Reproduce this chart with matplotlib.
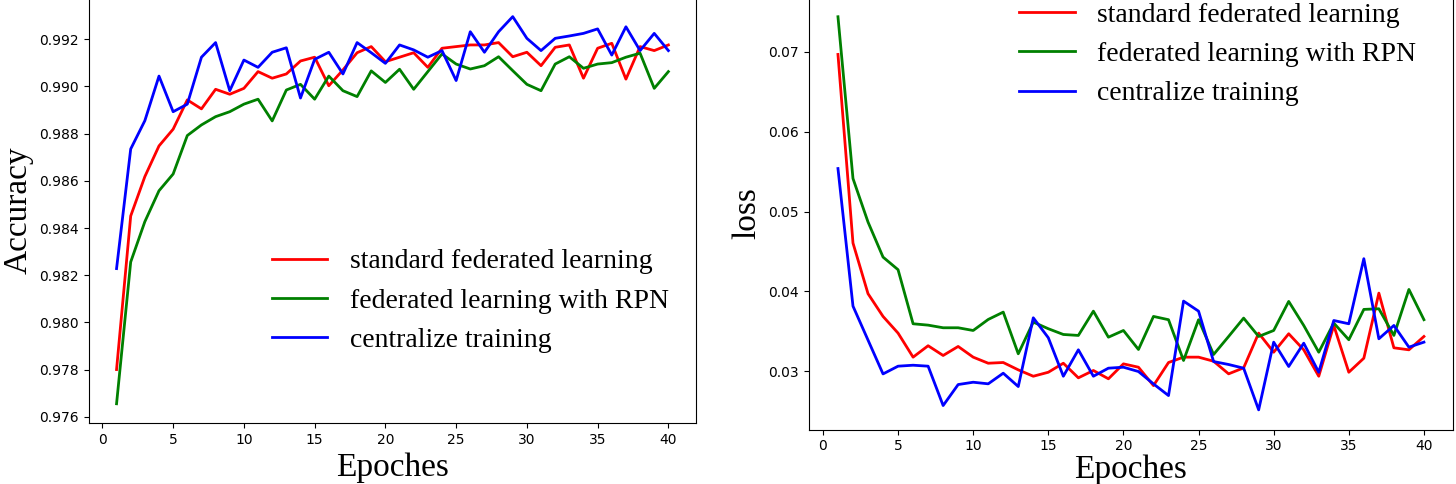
import numpy as np
import matplotlib
matplotlib.use("Agg")
import matplotlib.pyplot as plt

# --- DATA ---
epochs = list(range(1, 41))

series_names = ['standard federated learning', 'federated learning with RPN', 'centralize training']
series_colors = ['red', 'green', 'blue']

acc_standard = [0.97800, 0.98451, 0.98618, 0.98748, 0.98819, 0.98943, 0.98905, 0.98988, 0.98967, 0.98992,
                0.99063, 0.99035, 0.99053, 0.99108, 0.99124, 0.99003, 0.99070, 0.99143, 0.99169, 0.99105,
                0.99124, 0.99143, 0.99081, 0.99162, 0.99169, 0.99176, 0.99176, 0.99186, 0.99126, 0.99145,
                0.99088, 0.99166, 0.99176, 0.99035, 0.99162, 0.99183, 0.99031, 0.99169, 0.99152, 0.99176]
acc_rpn = [0.97655, 0.98256, 0.98427, 0.98558, 0.98629, 0.98792, 0.98837, 0.98872, 0.98893, 0.98925,
           0.98946, 0.98854, 0.98985, 0.99009, 0.98946, 0.99044, 0.98982, 0.98957, 0.99066, 0.99017,
           0.99073, 0.98988, 0.99063, 0.99138, 0.99095, 0.99074, 0.99088, 0.99126, 0.99067, 0.99009,
           0.98982, 0.99095, 0.99126, 0.99077, 0.99095, 0.99101, 0.99124, 0.99141, 0.98992, 0.99063]
acc_central = [0.98228, 0.98735, 0.98855, 0.99044, 0.98893, 0.98925, 0.99124, 0.99186, 0.98982, 0.99112,
               0.99081, 0.99145, 0.99164, 0.98951, 0.99115, 0.99145, 0.99053, 0.99186, 0.99143, 0.99098,
               0.99176, 0.99155, 0.99124, 0.99152, 0.99025, 0.99232, 0.99145, 0.99232, 0.99296, 0.99204,
               0.99152, 0.99204, 0.99214, 0.99225, 0.99244, 0.99133, 0.99253, 0.99152, 0.99225, 0.99152]

loss_standard = [0.06967, 0.04605, 0.03971, 0.03686, 0.03477, 0.03176, 0.03319, 0.03197, 0.03310, 0.03176,
                 0.03100, 0.03109, 0.03017, 0.02937, 0.02987, 0.03100, 0.02917, 0.03009, 0.02905, 0.03092,
                 0.03050, 0.02820, 0.03109, 0.03176, 0.03176, 0.03125, 0.02967, 0.03042, 0.03477, 0.03238,
                 0.03469, 0.03268, 0.02937, 0.03573, 0.02987, 0.03163, 0.03978, 0.03293, 0.03268, 0.03435]
loss_rpn = [0.07439, 0.05413, 0.04868, 0.04429, 0.04271, 0.03594, 0.03577, 0.03544, 0.03544, 0.03510,
            0.03648, 0.03740, 0.03218, 0.03615, 0.03532, 0.03460, 0.03448, 0.03752, 0.03426, 0.03510,
            0.03272, 0.03686, 0.03645, 0.03134, 0.03645, 0.03209, 0.03435, 0.03665, 0.03435, 0.03510,
            0.03874, 0.03573, 0.03238, 0.03603, 0.03394, 0.03774, 0.03782, 0.03448, 0.04024, 0.03645]
loss_central = [0.05538, 0.03815, 0.03390, 0.02966, 0.03063, 0.03075, 0.03063, 0.02570, 0.02833, 0.02862,
                0.02842, 0.02975, 0.02808, 0.03669, 0.03419, 0.02937, 0.03268, 0.02937, 0.03038, 0.03050,
                0.02996, 0.02841, 0.02695, 0.03878, 0.03752, 0.03121, 0.03084, 0.03038, 0.02516, 0.03364,
                0.03059, 0.03351, 0.02987, 0.03635, 0.03594, 0.04409, 0.03406, 0.03573, 0.03301, 0.03364]

SERIF = 'Liberation Serif'

fig = plt.figure(figsize=(14.56, 4.84), dpi=100)

# --- Accuracy panel ---
ax1 = fig.add_axes([0.0611, 0.1258, 0.4169, 0.8798])
for vals, name, col in zip([acc_standard, acc_rpn, acc_central], series_names, series_colors):
    ax1.plot(epochs, vals, color=col, linewidth=2, label=name)
ax1.set_xlim(-0.95, 41.95)
ax1.set_ylim(0.97573, 0.99378)
ax1.set_xticks(range(0, 41, 5))
yt = np.arange(0.976, 0.9921, 0.002)
ax1.set_yticks(yt)
ax1.set_yticklabels([f'{t:.3f}' for t in yt])
ax1.tick_params(labelsize=10)
ax1.set_xlabel('Epoches', fontsize=24, family=SERIF)
ax1.set_ylabel('Accuracy', fontsize=24, family=SERIF)
ax1.legend(loc='center left', bbox_to_anchor=(0.283, 0.287), frameon=False,
           prop={'family': SERIF, 'size': 20}, borderaxespad=0)

# --- Loss panel ---
ax2 = fig.add_axes([0.5554, 0.1126, 0.4427, 0.8934])
for vals, name, col in zip([loss_standard, loss_rpn, loss_central], series_names, series_colors):
    ax2.plot(epochs, vals, color=col, linewidth=2, label=name)
ax2.set_xlim(-0.95, 41.95)
ax2.set_ylim(0.0227, 0.07685)
ax2.set_xticks(range(0, 41, 5))
ax2.set_yticks([0.03, 0.04, 0.05, 0.06, 0.07])
ax2.tick_params(labelsize=10)
ax2.set_xlabel('Epoches', fontsize=24, family=SERIF, labelpad=1)
ax2.set_ylabel('loss', fontsize=24, family=SERIF)
ax2.legend(loc='center left', bbox_to_anchor=(0.309, 0.868), frameon=False,
           prop={'family': SERIF, 'size': 20}, borderaxespad=0)

fig.savefig('out.png', dpi=100)
